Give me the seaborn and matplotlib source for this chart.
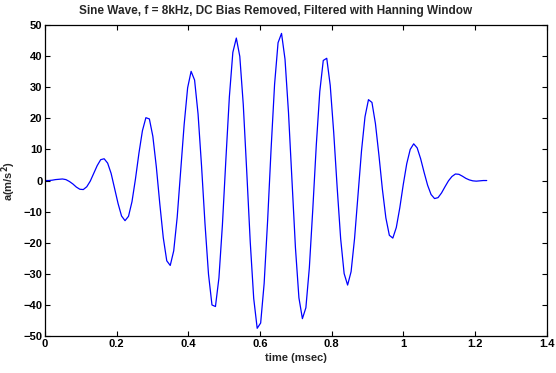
import numpy as np
import pandas as pd
import matplotlib
matplotlib.use("Agg")
import matplotlib.pyplot as plt
import seaborn as sns

# acceleration samples (m/s^2)
accel = [
    0.0, 0.0, 0.1, 0.3, 0.4, 0.5, 0.3, -0.3, -1.1, -2.1,
    -2.8, -2.9, -2.0, -0.2, 2.3, 4.8, 6.7, 7.0, 5.6, 2.3,
    -2.5, -7.4, -11.4, -12.9, -11.5, -6.8, 0.5, 8.8, 16.0, 20.2,
    19.8, 14.2, 4.4, -7.5, -18.4, -25.8, -27.3, -22.6, -11.8, 2.9,
    18.0, 29.8, 35.1, 32.3, 21.4, 4.7, -14.0, -30.1, -40.0, -40.5,
    -31.3, -14.3, 6.8, 26.9, 41.2, 45.8, 39.9, 24.4, 2.8, -19.7,
    -37.9, -47.5, -45.8, -33.1, -12.9, 10.2, 30.9, 44.3, 47.3, 39.0,
    21.9, -0.1, -21.6, -37.7, -44.4, -40.9, -28.0, -9.0, 11.5, 28.6,
    38.6, 39.3, 30.6, 15.5, -2.3, -18.7, -29.9, -33.6, -29.3, -18.6,
    -4.5, 9.6, 20.5, 26.0, 25.1, 18.3, 8.2, -2.8, -12.0, -17.6,
    -18.5, -15.1, -8.8, -1.3, 5.4, 10.0, 11.8, 10.5, 7.0, 2.6,
    -1.5, -4.5, -5.8, -5.5, -4.0, -2.0, -0.1, 1.3, 2.1, 2.0,
    1.4, 0.7, 0.2, -0.1, -0.2, -0.1, 0.0, 0.0,
]
t_start = 0.0
t_end = 1.233  # msec

x_ticks = [0, 0.2, 0.4, 0.6, 0.8, 1.0, 1.2, 1.4]
x_tick_labels = ["0", "0.2", "0.4", "0.6", "0.8", "1", "1.2", "1.4"]
y_ticks = [-50, -40, -30, -20, -10, 0, 10, 20, 30, 40, 50]

time_ms = np.linspace(t_start, t_end, len(accel))
df = pd.DataFrame({"time": time_ms, "accel": accel})

sns.set_theme(style="ticks")
plt.rcParams["font.family"] = ["Liberation Sans", "DejaVu Sans"]
plt.rcParams["font.weight"] = "bold"
plt.rcParams["mathtext.default"] = "bf"

fig = plt.figure(figsize=(5.56, 3.73), dpi=100)
ax = fig.add_axes([0.081, 0.099, 0.902, 0.834])

sns.lineplot(data=df, x="time", y="accel", ax=ax, color=(0, 0, 1), linewidth=0.9)

ax.set_xlim(0, 1.4)
ax.set_ylim(-50, 50)
ax.set_xticks(x_ticks)
ax.set_xticklabels(x_tick_labels)
ax.set_yticks(y_ticks)
ax.tick_params(direction="in", length=3.5, width=0.8, top=True, right=True,
               labelsize=8, pad=2, colors="black")
for lab in ax.get_xticklabels() + ax.get_yticklabels():
    lab.set_fontweight("bold")
for s in ax.spines.values():
    s.set_visible(True)
    s.set_linewidth(0.9)
    s.set_color("black")

ax.set_xlabel("time (msec)", fontsize=8, fontweight="bold", labelpad=3)
ax.set_ylabel(r"a(m/s$^2$)", fontsize=8, fontweight="bold", labelpad=4)
ax.set_title("Sine Wave, f = 8kHz, DC Bias Removed, Filtered with Hanning Window",
             fontsize=8.5, fontweight="bold", pad=8, x=0.46)

fig.savefig("out.png", dpi=100, facecolor="white")
